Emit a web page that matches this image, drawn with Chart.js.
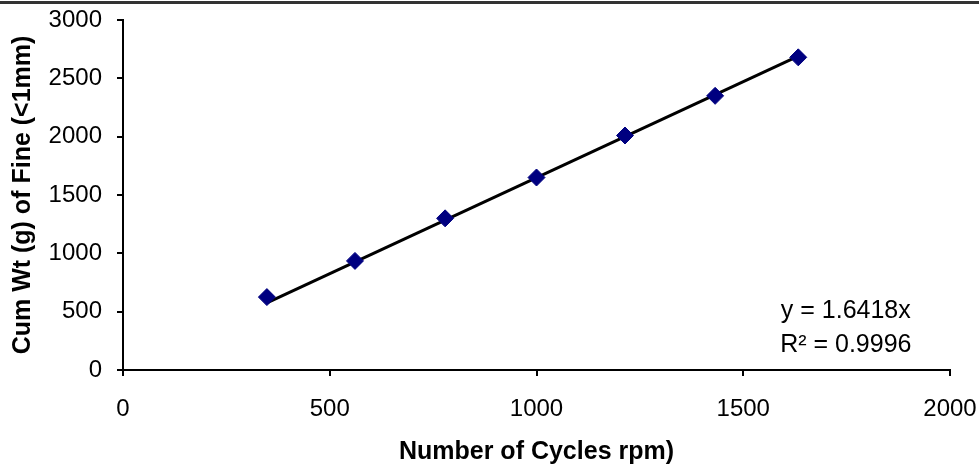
<!DOCTYPE html>
<html>
<head>
<meta charset="utf-8">
<title>Cum Wt of Fine vs Number of Cycles</title>
<script src="https://cdn.jsdelivr.net/npm/chart.js@4"></script>
<style>
    body { margin: 0; background: #fff; }
    #wrap { position: relative; width: 979px; height: 470px; }
    #topLine { position: absolute; left: 0; top: 1px; width: 979px; height: 3px; background: #333; }
</style>
</head>
<body>
<div id="wrap">
    <canvas id="chart" width="979" height="470"></canvas>
    <div id="topLine"></div>
</div>
<script>
// measured points
const cycles = [348, 561, 779, 1000, 1214, 1432, 1633];
const cumWt = [625, 935, 1300, 1650, 2010, 2350, 2680];

// linear trend line (through origin), end points
const trendX = [348, 1633];
const trendY = [575, 2690];

const equationText = 'y = 1.6418x';
const r2Text = 'R\u00B2 = 0.9996';

const fontFamily = '"Liberation Sans", Arial, sans-serif';

const equationLabel = {
    id: 'equationLabel',
    afterDatasetsDraw(chart) {
        const ctx = chart.ctx;
        const x = chart.scales.x.getPixelForValue(1748);
        ctx.save();
        ctx.fillStyle = '#000';
        ctx.font = '25px ' + fontFamily;
        ctx.textAlign = 'center';
        ctx.textBaseline = 'middle';
        ctx.fillText(equationText, x, chart.scales.y.getPixelForValue(506));
        ctx.fillText(r2Text, x, chart.scales.y.getPixelForValue(214));
        ctx.restore();
    }
};

// stop Chart.js from adding room for overhanging tick labels
function fixAxis(axis, size) {
    if (axis.isHorizontal()) axis.height = size; else axis.width = size;
    axis.paddingTop = 0;
    axis.paddingBottom = 0;
    axis.paddingLeft = 0;
    axis.paddingRight = 0;
}

const ctx = document.getElementById('chart').getContext('2d');
new Chart(ctx, {
    type: 'scatter',
    data: {
        datasets: [{
            label: 'Trend',
            data: trendX.map((x, i) => ({ x: x, y: trendY[i] })),
            showLine: true,
            borderColor: '#000',
            borderWidth: 3,
            pointRadius: 0,
            fill: false,
            order: 2
        }, {
            label: 'Cum Wt',
            data: cycles.map((x, i) => ({ x: x, y: cumWt[i] })),
            pointStyle: 'rectRot',
            pointRadius: 8.5,
            backgroundColor: '#000080',
            borderColor: '#000080',
            borderWidth: 1,
            order: 1
        }]
    },
    options: {
        responsive: false,
        animation: false,
        layout: {
            padding: { top: 20, right: 29, left: 0, bottom: 0 }
        },
        plugins: {
            legend: { display: false },
            tooltip: { enabled: false }
        },
        scales: {
            x: {
                type: 'linear',
                min: 0,
                max: 2000,
                afterFit: function (axis) { fixAxis(axis, 100); },
                ticks: {
                    stepSize: 500,
                    padding: 19,
                    color: '#000',
                    font: { family: fontFamily, size: 24 },
                    callback: v => String(v)
                },
                grid: {
                    drawOnChartArea: false,
                    drawTicks: true,
                    tickLength: 6,
                    color: '#000',
                    lineWidth: 2
                },
                border: { display: true, color: '#000', width: 2 },
                title: {
                    display: true,
                    text: 'Number of Cycles rpm)',
                    color: '#000',
                    padding: { top: 0, bottom: 3 },
                    font: { family: fontFamily, size: 25, weight: 'bold' }
                }
            },
            y: {
                min: 0,
                max: 3000,
                afterFit: function (axis) { fixAxis(axis, 123); },
                ticks: {
                    stepSize: 500,
                    padding: 15,
                    color: '#000',
                    font: { family: fontFamily, size: 24 },
                    callback: v => String(v)
                },
                grid: {
                    drawOnChartArea: false,
                    drawTicks: true,
                    tickLength: 6,
                    color: '#000',
                    lineWidth: 2
                },
                border: { display: true, color: '#000', width: 2 },
                title: {
                    display: true,
                    text: 'Cum Wt (g) of Fine (<1mm)',
                    color: '#000',
                    padding: { top: 8, bottom: 0 },
                    font: { family: fontFamily, size: 25, weight: 'bold' }
                }
            }
        }
    },
    plugins: [equationLabel]
});
</script>
</body>
</html>
